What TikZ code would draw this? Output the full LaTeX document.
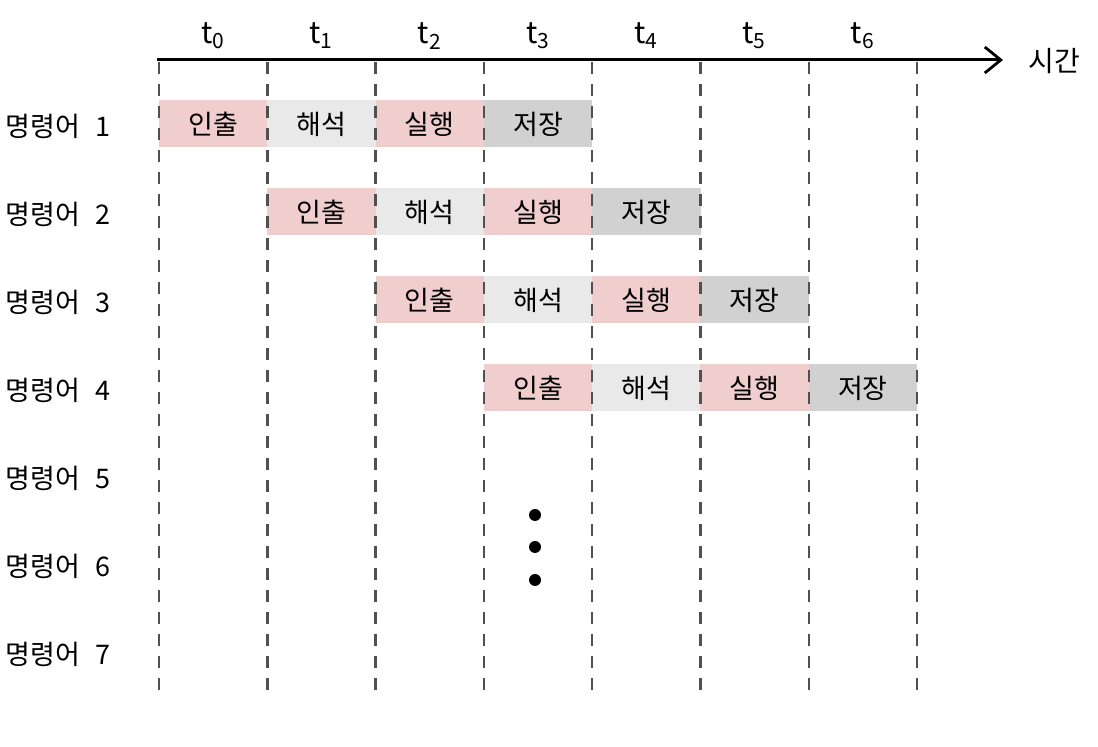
\documentclass[tikz,border=0pt]{standalone}
\usepackage{fontspec}
\setmainfont{Noto Sans CJK KR}
\usetikzlibrary{arrows.meta}
\definecolor{fetchc}{RGB}{240,206,206}
\definecolor{decodec}{RGB}{233,233,233}
\definecolor{storec}{RGB}{209,209,209}
\definecolor{dashc}{RGB}{80,80,80}
\begin{document}
\begin{tikzpicture}[x=0.5pt,y=-0.5pt,
  stagebox/.style={minimum width=54.2pt,minimum height=23.5pt,inner sep=0pt,
    font=\fontsize{13.5}{15}\selectfont},
  rowlabel/.style={anchor=west,inner sep=0pt,font=\fontsize{13.5}{15}\selectfont},
  timelabel/.style={inner sep=0pt,font=\fontsize{15}{17}\selectfont},
  gridline/.style={dashc,line width=1.2pt,dash pattern=on 6pt off 5pt},
  timeaxis/.style={line width=1.5pt,-{Straight Barb[length=8pt,width=13pt,line width=1.4pt]}},
  dotmark/.style={circle,fill=black,inner sep=0pt,minimum size=6pt}]
\useasboundingbox (0,0) rectangle (1098,747);
% stage boxes
\foreach \r in {1,...,4} {
  \foreach \s/\txt/\col in {0/인출/fetchc,1/해석/decodec,2/실행/fetchc,3/저장/storec} {
    \pgfmathsetmacro\cx{159+108.3*(\r-1+\s+0.5)}
    \pgfmathsetmacro\cy{124+88*(\r-1)}
    \node[stagebox,fill=\col] (b\r-\s) at (\cx,\cy) {\txt};
  }
}
% dashed grid lines
\foreach \i in {0,...,7} {
  \pgfmathsetmacro\gx{159+108.3*\i}
  \coordinate (gt\i) at (\gx,62);
  \coordinate (gb\i) at (\gx,690);
  \draw[gridline] (gt\i) -- (gb\i);
}
% time axis
\coordinate (axs) at (157,60);
\coordinate (axe) at (1003,60);
\draw[timeaxis] (axs) -- (axe);
\node[inner sep=0pt,font=\fontsize{14}{16}\selectfont] (time) at (1054,61) {시간};
% time labels
\foreach \i in {0,...,6} {
  \pgfmathsetmacro\tx{159+108.3*(\i+0.5)}
  \node[timelabel] (t\i) at (\tx,36) {t\textsubscript{\i}};
}
% row labels
\foreach \r in {1,...,7} {
  \pgfmathsetmacro\ry{126+88*(\r-1)}
  \node[rowlabel] (l\r) at (5,\ry) {명령어\hspace{8pt}\r};
}
% ellipsis dots
\node[dotmark] (d1) at (535,515) {};
\node[dotmark] (d2) at (535,547) {};
\node[dotmark] (d3) at (535,580) {};
\end{tikzpicture}
\end{document}
